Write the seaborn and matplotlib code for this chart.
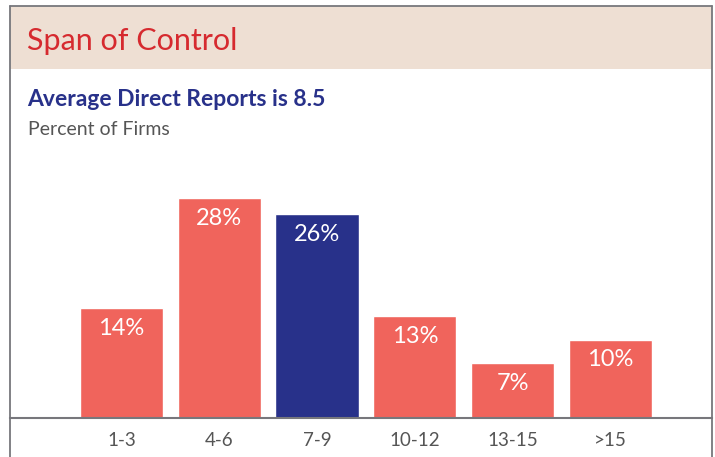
import matplotlib
matplotlib.use("Agg")
import matplotlib.pyplot as plt
from matplotlib.patches import Rectangle
from matplotlib.lines import Line2D
import seaborn as sns
import pandas as pd

# Span of control distribution
categories = ["1-3", "4-6", "7-9", "10-12", "13-15", ">15"]
percent_of_firms = [14, 28, 26, 13, 7, 10]
highlight = "7-9"

title = "Span of Control"
subtitle = "Average Direct Reports is 8.5"
unit_label = "Percent of Firms"

CORAL = "#F0645C"
NAVY = "#28318A"
HEADER_BG = "#EEDFD3"
TITLE_RED = "#D62A2F"
GRAY_TEXT = "#555555"
FRAME = "#77777C"

sns.set_theme(style="white")
plt.rcParams["font.family"] = ["Lato", "DejaVu Sans"]

W, H = 715, 457
fig = plt.figure(figsize=(W / 100, H / 100), dpi=100)
fig.patch.set_facecolor("white")

def fx(px):
    return px / W

def fy(py):
    return 1 - py / H

# Header band and frame
fig.add_artist(Rectangle((fx(10), fy(69)), fx(712) - fx(10), fy(6) - fy(69),
                         transform=fig.transFigure, facecolor=HEADER_BG,
                         edgecolor="none", zorder=0))
for xs, ys in [((10, 10), (6, H)), ((712, 712), (6, H)), ((10, 712), (6, 6))]:
    fig.add_artist(Line2D([fx(x) for x in xs], [fy(y) for y in ys],
                          transform=fig.transFigure, color=FRAME, lw=1.3, zorder=5))

fig.text(fx(27), fy(41), title, color=TITLE_RED, fontsize=22,
         va="center", ha="left")
fig.text(fx(27), fy(100), subtitle, color=NAVY, fontsize=16.5,
         fontweight="bold", va="center", ha="left")
fig.text(fx(28), fy(130), unit_label, color=GRAY_TEXT, fontsize=14,
         va="center", ha="left")

# Bar chart area
base_px, top_px = 418, 140
ax = fig.add_axes([fx(10), fy(base_px), fx(712) - fx(10), (base_px - top_px) / H])

df = pd.DataFrame({"bucket": categories, "pct": percent_of_firms})
palette = {c: (NAVY if c == highlight else CORAL) for c in categories}
sns.barplot(data=df, x="bucket", y="pct", hue="bucket", palette=palette,
            order=categories, hue_order=categories, width=0.85,
            saturation=1, legend=False, ax=ax)

px_per_pct = 7.85
ax.set_ylim(0, (base_px - top_px) / px_per_pct)
ax.set_xlim(-1.14, 6.04)

for i, v in enumerate(percent_of_firms):
    ax.annotate(f"{v}%", xy=(i, v), xytext=(0, -14.5), textcoords="offset points",
                ha="center", va="center", color="white", fontsize=17)

ax.set_xlabel("")
ax.set_ylabel("")
ax.set_yticks([])
ax.tick_params(axis="x", length=0, pad=10, labelsize=13.5, labelcolor=GRAY_TEXT)
for side in ["top", "left", "right"]:
    ax.spines[side].set_visible(False)
ax.spines["bottom"].set_color(FRAME)
ax.spines["bottom"].set_linewidth(1.5)
ax.patch.set_alpha(0)

fig.savefig("out.png", dpi=100)
